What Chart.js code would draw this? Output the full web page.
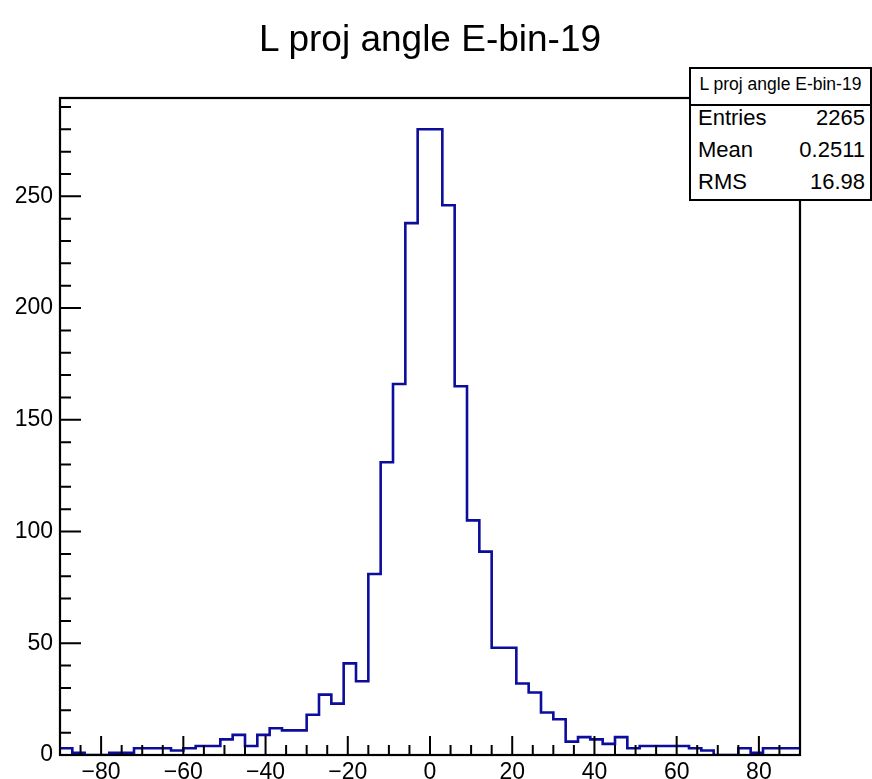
<!DOCTYPE html>
<html>
<head>
<meta charset="utf-8">
<script src="https://cdn.jsdelivr.net/npm/chart.js@4/dist/chart.umd.min.js"></script>
<style>
  html, body { margin: 0; padding: 0; background: #fff; }
  #wrap { position: relative; width: 872px; height: 779px; overflow: hidden; font-family: "Liberation Sans", Arial, Helvetica, sans-serif; }
  #c { position: absolute; left: 0; top: 0; }
  .t { position: absolute; white-space: nowrap; color: #000; }
  #title { left: 0; width: 860px; text-align: center; top: 20.4px; font-size: 37px; line-height: 37px; }
  #stats { position: absolute; left: 689px; top: 67px; width: 183px; height: 134px; box-sizing: border-box; border: 2px solid #000; background: #fff; }
  #statsHead { position: absolute; left: 0; top: 0; width: 100%; height: 35px; border-bottom: 2px solid #000; }
</style>
</head>
<body>
<div id="wrap">
  <canvas id="c" width="872" height="779"></canvas>
  <div id="title" class="t">L proj angle E-bin-19</div>
  <div id="stats">
    <div id="statsHead"></div>
  </div>
</div>
<script>
// ---- data ----
const histTitle = "L proj angle E-bin-19";
const xLow = -90;
const xHigh = 90;
const binWidth = 3;
const counts = [
  3, 1, 0, 0, 1, 1, 3, 3, 3, 2,
  3, 4, 4, 7, 9, 4, 9, 12, 11, 11,
  18, 27, 23, 41, 33, 81, 131, 166, 238, 280,
  280, 246, 165, 105, 91, 48, 48, 32, 28, 19,
  16, 6, 8, 7, 5, 8, 3, 4, 4, 4,
  4, 3, 2, 0, 0, 3, 1, 3, 3, 3
];
const statLabels = ["Entries", "Mean", "RMS"];
const statValues = ["2265", "0.2511", "16.98"];
const xMajorTicks = [-80, -60, -40, -20, 0, 20, 40, 60, 80];
const xMinorTicks = [-85, -75, -70, -65, -55, -50, -45, -35, -30, -25, -15, -10, -5, 5, 10, 15, 25, 30, 35, 45, 50, 55, 65, 70, 75, 85];
const yMajorTicks = [0, 50, 100, 150, 200, 250];
const yMinorTicks = [10, 20, 30, 40, 60, 70, 80, 90, 110, 120, 130, 140, 160, 170, 180, 190, 210, 220, 230, 240, 260, 270, 280, 290];
const yMax = 294;

// ---- stats box text ----
(function () {
  const box = document.getElementById('stats');
  const head = document.createElement('div');
  head.className = 't';
  head.textContent = histTitle;
  head.style.cssText = 'left:0;width:179px;text-align:center;top:6.7px;font-size:17.5px;line-height:17.5px;';
  box.appendChild(head);
  const tops = [38.3, 70.3, 101.6];
  statLabels.forEach((lab, i) => {
    const l = document.createElement('div');
    l.className = 't';
    l.textContent = lab;
    l.style.cssText = `left:7px;top:${tops[i]}px;font-size:22px;line-height:22px;`;
    box.appendChild(l);
    const v = document.createElement('div');
    v.className = 't';
    v.textContent = statValues[i];
    v.style.cssText = `right:5px;top:${tops[i]}px;font-size:22px;line-height:22px;text-align:right;`;
    box.appendChild(v);
  });
})();

// ---- build step points: left edge of each bin carries the bin content ----
const points = counts.map((c, k) => ({ x: xLow + k * binWidth, y: c }));
points.push({ x: xHigh, y: counts[counts.length - 1] });

const fmt = v => (v < 0 ? '\u2212' + Math.abs(v) : String(v));

const frameTicks = {
  id: 'frameTicks',
  afterDatasetsDraw(chart) {
    const { ctx, chartArea: a, scales } = chart;
    const xs = scales.x, ys = scales.y;
    ctx.save();
    ctx.strokeStyle = '#000';
    ctx.lineWidth = 2;
    ctx.beginPath();
    xMajorTicks.forEach(v => { const p = xs.getPixelForValue(v); ctx.moveTo(p, a.bottom); ctx.lineTo(p, a.bottom - 19); });
    xMinorTicks.forEach(v => { const p = xs.getPixelForValue(v); ctx.moveTo(p, a.bottom); ctx.lineTo(p, a.bottom - 10); });
    yMajorTicks.forEach(v => { const p = ys.getPixelForValue(v); ctx.moveTo(a.left, p); ctx.lineTo(a.left + 21, p); });
    yMinorTicks.forEach(v => { const p = ys.getPixelForValue(v); ctx.moveTo(a.left, p); ctx.lineTo(a.left + 11, p); });
    ctx.stroke();
    ctx.lineWidth = 2.2;
    ctx.strokeRect(a.left, a.top, a.right - a.left, a.bottom - a.top);
    ctx.restore();
  }
};

new Chart(document.getElementById('c'), {
  type: 'line',
  data: {
    datasets: [{
      data: points,
      stepped: true,
      borderColor: '#0d0d9c',
      borderWidth: 2.6,
      pointRadius: 0,
      fill: false,
      tension: 0
    }]
  },
  options: {
    responsive: false,
    animation: false,
    events: [],
    layout: { padding: { top: 98, right: 72, left: 0, bottom: 0 } },
    plugins: { legend: { display: false }, title: { display: false }, tooltip: { enabled: false } },
    scales: {
      x: {
        type: 'linear',
        min: xLow,
        max: xHigh,
        grid: { display: false, drawTicks: false },
        border: { display: false },
        afterBuildTicks: s => { s.ticks = xMajorTicks.map(v => ({ value: v })); },
        afterFit: s => { s.height = 24; },
        ticks: {
          autoSkip: false,
          maxRotation: 0,
          padding: 4,
          color: '#000',
          font: { family: '"Liberation Sans", Arial, sans-serif', size: 23 },
          callback: v => fmt(v)
        }
      },
      y: {
        type: 'linear',
        min: 0,
        max: yMax,
        grid: { display: false, drawTicks: false },
        border: { display: false },
        afterBuildTicks: s => { s.ticks = yMajorTicks.map(v => ({ value: v })); },
        afterFit: s => { s.width = 60; },
        ticks: {
          padding: 7,
          color: '#000',
          font: { family: '"Liberation Sans", Arial, sans-serif', size: 23 },
          callback: v => fmt(v)
        }
      }
    }
  },
  plugins: [frameTicks]
});
</script>
</body>
</html>
